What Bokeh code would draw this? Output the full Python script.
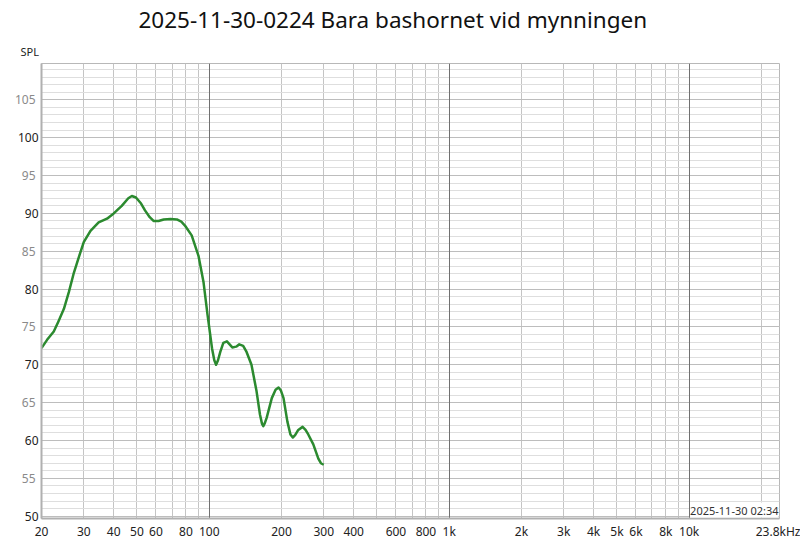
import numpy as np
from bokeh.plotting import figure
from bokeh.models import FixedTicker, Grid, Label, LinearAxis, Range1d, Title
from bokeh.embed import file_html
from bokeh.resources import INLINE

TITLE = "2025-11-30-0224 Bara bashornet vid mynningen"
STAMP = "2025-11-30 02:34"
FONT = "Noto Sans"

freq = [20, 21.1, 22.5, 23.5, 24.8, 26.0, 27.2, 28.6, 30, 32.0, 34.6, 37.5, 40,
        43.2, 46.0, 47.6, 49.5, 52.0, 54.0, 56.5, 58.6, 61.5, 64.6, 69.0, 73.3, 76.5,
        79.2, 84.5, 90.2, 94.7, 98.4, 102.7, 105.0, 106.8, 108.8, 111.2, 114.5, 118.5,
        124.8, 129.5, 133.4, 138.5, 143.1, 150, 157.5, 162.8, 166, 168, 170.5,
        173.5, 182.3, 189, 194.5, 199, 204, 211.7, 218, 223, 228, 235, 245, 252,
        258.7, 271.5, 284.9, 292, 300]
spl = [72.2, 73.3, 74.4, 75.7, 77.4, 79.6, 82.0, 84.2, 86.2, 87.7, 88.8, 89.3, 90.0,
       91.0, 92.0, 92.3, 92.1, 91.3, 90.4, 89.5, 89.0, 89.0, 89.2, 89.25, 89.2, 88.9,
       88.4, 87.1, 84.4, 80.9, 76.6, 72.2, 70.6, 70.0, 70.6, 71.7, 72.9, 73.1,
       72.3, 72.4, 72.7, 72.5, 71.7, 70.0, 66.5, 63.4, 62.2, 61.9, 62.3,
       63.0, 65.6, 66.7, 67.0, 66.6, 65.6, 62.5, 60.8, 60.4, 60.7, 61.4, 61.8, 61.4,
       60.8, 59.5, 57.6, 57.0, 56.8]

# axis limits
x_min, x_max = 20, 23800
y_min, y_max = 49.7, 109.8

# tick labels
x_ticks = [20, 30, 40, 50, 60, 80, 100, 200, 300, 400, 600, 800,
           1000, 2000, 3000, 4000, 5000, 6000, 8000, 10000, 23800]
x_labels = ["20", "30", "40", "50", "60", "80", "100", "200", "300", "400", "600", "800",
            "1k", "2k", "3k", "4k", "5k", "6k", "8k", "10k", "23.8kHz"]
y_dark = [50, 60, 70, 80, 90, 100]
y_gray = [55, 65, 75, 85, 95, 105]

# grid positions
x_grid = [20, 30, 40, 50, 60, 70, 80, 90, 200, 300, 400, 500, 600, 700, 800, 900,
          2000, 3000, 4000, 5000, 6000, 7000, 8000, 9000, 20000]
x_decades = [100, 1000, 10000]
y_grid_1 = list(range(50, 110))
y_grid_5 = list(range(50, 110, 5))

p = figure(width=800, height=542, x_axis_type="log",
           x_range=Range1d(x_min, x_max), y_range=Range1d(y_min, y_max),
           output_backend="svg", toolbar_location=None,
           min_border_left=41, min_border_right=21, min_border_top=61, min_border_bottom=24)

p.title.text = TITLE
p.title.text_font = FONT
p.title.text_font_size = "22.5px"
p.title.text_font_style = "normal"
p.title.align = "left"
p.title.offset = 97
p.title.standoff = 3
p.title.text_color = "#111111"

# "SPL" unit caption just above the frame, left of it
p.add_layout(Title(text="SPL", align="left", offset=-21, standoff=10,
                   text_font=FONT, text_font_size="11px", text_font_style="normal",
                   text_color="#222222"), "above")

p.outline_line_color = "#b8b8b8"
p.background_fill_color = "white"
p.border_fill_color = "white"

# grids
p.xgrid.ticker = FixedTicker(ticks=x_grid)
p.xgrid.grid_line_color = "#c4c4c4"
p.ygrid.ticker = FixedTicker(ticks=y_grid_1)
p.ygrid.grid_line_color = "#dedede"
p.add_layout(Grid(dimension=1, ticker=FixedTicker(ticks=y_grid_5), grid_line_color="#bdbdbd"))
p.add_layout(Grid(dimension=0, ticker=FixedTicker(ticks=x_decades), grid_line_color="#707070"))

# x axis
xa = p.xaxis[0]
xa.ticker = FixedTicker(ticks=x_ticks)
xa.major_label_overrides = {t: l for t, l in zip(x_ticks, x_labels)}
xa.major_label_text_font = FONT
xa.major_label_text_font_size = "12px"
xa.major_label_text_color = "#222222"
xa.major_label_standoff = 4
xa.major_tick_out = 0
xa.minor_tick_out = 0
xa.major_tick_line_color = None
xa.minor_tick_line_color = None
xa.axis_line_color = "#b0b0b0"
xa.axis_line_width = 2

# y axis: multiples of 10 dark, the in-between fives grey
ya = p.yaxis[0]
ya.ticker = FixedTicker(ticks=y_dark)
ya.major_label_text_font = FONT
ya.major_label_text_font_size = "12px"
ya.major_label_text_color = "#222222"
ya.major_label_standoff = 3
ya.major_tick_out = 0
ya.minor_tick_out = 0
ya.major_tick_line_color = None
ya.minor_tick_line_color = None
ya.axis_line_color = "#b0b0b0"
ya.axis_line_width = 2

# second axis stacked outside the first, pulled back onto the same column
ya2 = LinearAxis(ticker=FixedTicker(ticks=y_gray),
                 major_label_text_font=FONT, major_label_text_font_size="12px",
                 major_label_text_color="#8a8a8a", major_label_standoff=-21,
                 major_tick_out=0, minor_tick_out=0, major_tick_in=0, minor_tick_in=0,
                 major_tick_line_color=None, minor_tick_line_color=None,
                 axis_line_color=None)
p.add_layout(ya2, "left")

p.add_layout(Label(x=x_max, y=y_min, x_offset=-1, y_offset=1, text=STAMP,
                   text_align="right", text_baseline="bottom",
                   text_font=FONT, text_font_size="11px", text_color="#333333",
                   background_fill_color="white"))

p.line(freq, spl, line_color="#2b8a2f", line_width=2.5, line_join="round")

open("out.html", "w").write(file_html(p, INLINE))
